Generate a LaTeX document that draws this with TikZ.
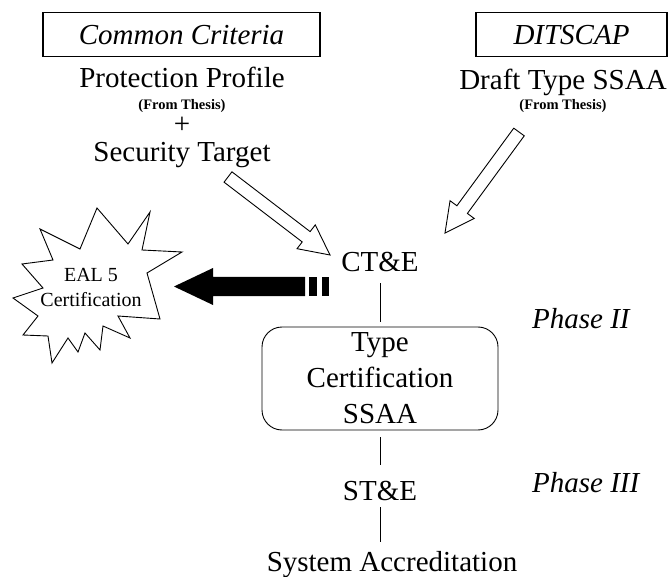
\documentclass[tikz,border=0pt]{standalone}
\usepackage{fontspec}
\setmainfont{Liberation Serif}
\usetikzlibrary{calc}

% block arrow from tail #2 to tip #3: half shaft #4, half head #5, head length #6
\newcommand\blockarrow[6]{%
  \coordinate (#2-base) at ($(#3)!#6!(#2)$);
  \path[#1] ($(#2)!#4!90:(#3)$) -- ($(#2-base)!#4!90:(#3)$)
    -- ($(#2-base)!#5!90:(#3)$) -- (#3) -- ($(#2-base)!#5!-90:(#3)$)
    -- ($(#2-base)!#4!-90:(#3)$) -- ($(#2)!#4!-90:(#3)$) -- cycle;}

\tikzset{
  lbl/.style={inner sep=0pt, font=\fontsize{29}{36}\selectfont},
  note/.style={inner sep=0pt, font=\fontsize{14.5}{17}\selectfont\bfseries},
  frame/.style={draw, line width=1.1pt, inner sep=0pt,
    font=\fontsize{29}{36}\selectfont\itshape, text height=20pt, text depth=0pt},
  link/.style={line width=0.9pt},
  hollow/.style={draw, line width=0.9pt, line join=miter, fill=white},
  fatarrow/.style={fill=black},
  burst/.style={draw, line width=0.9pt, line join=miter},
}

\begin{document}
\begin{tikzpicture}[x=1pt, y=-1pt]
\useasboundingbox (0,0) rectangle (669,577);

% source standards
\node[frame, minimum width=277pt, minimum height=44.5pt] (cc) at (181.5,34.5) {Common Criteria};
\node[frame, minimum width=191pt, minimum height=44.5pt] (dit) at (571.5,34.5) {DITSCAP};

\node[lbl, anchor=base] (pp) at (182,88) {Protection Profile};
\node[note, anchor=base] (pp-src) at (182,110) {(From Thesis)};
\node[lbl, anchor=base] (plus) at (182,134) {+};
\node[lbl, anchor=base] (st) at (182,162) {Security Target};

\node[lbl, anchor=base] (draft) at (563,90) {Draft Type SSAA};
\node[note, anchor=base] (draft-src) at (563,110) {(From Thesis)};

% main column
\node[lbl, anchor=base] (cte) at (380,272) {CT\&E};
\node[draw, line width=0.9pt, rounded corners=20pt, minimum width=236pt,
  minimum height=103pt, inner sep=0pt, align=center,
  font=\fontsize{29}{36}\selectfont] (tc) at (380,378.5) {Type\\Certification\\SSAA};
\node[lbl, anchor=base] (ste) at (380,500) {ST\&E};
\node[lbl, anchor=base] (sys) at (392,571) {System Accreditation};

\node[lbl, anchor=base west, font=\fontsize{29}{36}\selectfont\itshape] (ph2) at (532,328) {Phase II};
\node[lbl, anchor=base west, font=\fontsize{29}{36}\selectfont\itshape] (ph3) at (532,492) {Phase III};

\draw[link, shorten <=11pt, shorten >=5pt] (cte) -- (tc);
\draw[link, shorten <=7pt, shorten >=16pt] (tc) -- (ste);
\draw[link, shorten <=7pt, shorten >=9pt] (ste) -- (ste |- sys.north);

% inputs into CT&E
\coordinate (ha1) at (228,177);
\coordinate (ha1-tip) at (330,255);
\coordinate (ha2) at (519,132);
\coordinate (ha2-tip) at (445,233);
\blockarrow{hollow}{ha1}{ha1-tip}{6.5pt}{15pt}{30pt}
\blockarrow{hollow}{ha2}{ha2-tip}{6.5pt}{15pt}{29pt}

% certification burst
\draw[burst] (13,298) -- (43,288) -- (22,264) -- (53,260) -- (40,229) -- (80,249)
  -- (97,208) -- (128,244) -- (150,212) -- (142,250) -- (182,252) -- (147,273)
  -- (160,319) -- (118,316) -- (130,338) -- (103,326) -- (100,350) -- (85,333)
  -- (78,352) -- (68,338) -- (52,363) -- (48,336) -- (23,335) -- (38,316) -- cycle;
\node[align=center, inner sep=0pt, font=\fontsize{20}{25}\selectfont] (eal) at (91,287) {EAL 5\\Certification};

% output toward the certification
\coordinate (bk) at (305,286.5);
\coordinate (bk-tip) at (174,286.5);
\blockarrow{fatarrow}{bk}{bk-tip}{9.5pt}{18.5pt}{39pt}
\fill (309,277) rectangle (317,296);
\fill (322,277) rectangle (329,296);
\end{tikzpicture}
\end{document}
